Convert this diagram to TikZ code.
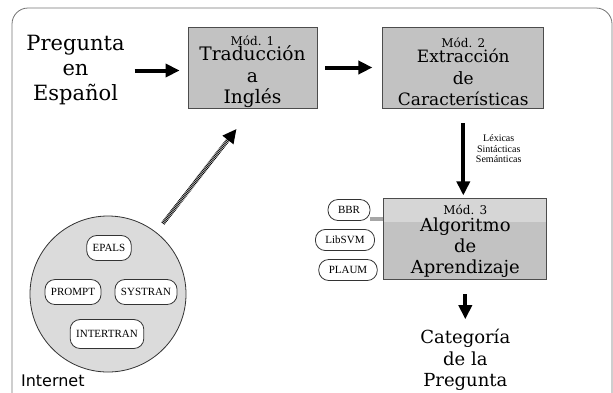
\documentclass[tikz,border=0pt]{standalone}
\usepackage{fontspec}
\setmainfont{DejaVu Serif}
\newfontfamily\smallserif{Liberation Serif}
\newfontfamily\labelsans{DejaVu Sans}
\usepackage{xcolor}
\usepackage{tikz}
\usetikzlibrary{shapes,arrows.meta,positioning,calc}

\newcommand{\modnum}[1]{{\fontsize{6}{7}\selectfont #1}}

\begin{document}
\begin{tikzpicture}[
    x=0.5pt, y=-0.5pt,
    node distance=1cm,
    modulo/.style={rectangle, draw=black!70, fill=black!24, minimum height=40.5pt, inner sep=0pt},
    modtexto/.style={align=center, inner sep=1pt},
    site/.style={rectangle, rounded corners=5pt, draw=black!80, fill=white, inner xsep=3pt, minimum height=12.5pt, font=\smallserif\fontsize{5.5}{6}\selectfont},
    alg/.style={rectangle, rounded corners=5pt, draw=black!80, fill=white, inner xsep=5pt, minimum height=10.5pt, font=\smallserif\fontsize{5.5}{6}\selectfont},
    texto/.style={align=center},
    flecha/.style={-{Triangle[length=7pt,width=6.5pt]}, line width=2pt},
    rayado/.style={-{Triangle[length=7pt,width=6.5pt]}, line width=2pt, dash pattern=on 0.4pt off 0.4pt}
]

\useasboundingbox (0,0) rectangle (613,392);
\clip (0,0) rectangle (613,392);
\draw[black!55, rounded corners=8pt] (12,8) rectangle (612,430);

\node[modulo, minimum width=64.5pt] (mod1) at (252.5,67.5) {};
\node[modulo, minimum width=80.5pt, right=32.5pt of mod1] (mod2) {};
\node[modulo, minimum width=81.5pt, below=45pt of mod2, xshift=1pt,
      path picture={\fill[black!16] ([yshift=-11.5pt]path picture bounding box.north west) rectangle (path picture bounding box.north east);}] (mod3) {};

\node[modtexto, font=\fontsize{9.3}{10.7}\selectfont] (mod1txt) at ([yshift=-2.1pt]mod1.center) {\modnum{Mód. 1}\\[-2.75pt]Traducción\\a\\Inglés};
\node[modtexto, font=\fontsize{8.5}{10.7}\selectfont] (mod2txt) at ([yshift=-2.1pt]mod2.center) {\modnum{Mód. 2}\\[-2.75pt]Extracción\\de\\Características};
\node[modtexto, font=\fontsize{9}{10.3}\selectfont] (mod3txt) at ([yshift=-0.8pt]mod3.center) {\modnum{Mód. 3}\\[-1.5pt]Algoritmo\\de\\Aprendizaje};

\node[texto, left=28pt of mod1, yshift=-1.5pt, font=\fontsize{10.5}{12.5}\selectfont] (pregunta) {Pregunta\\en\\Español};
\node[texto, below=21pt of mod3, font=\fontsize{9}{10.75}\selectfont] (categoria) {Categoría\\de la\\Pregunta};

\draw[flecha, shorten <=1.5pt, shorten >=4pt] (pregunta.east) -- (pregunta.east -| mod1.west);
\draw[flecha, shorten <=4pt, shorten >=5pt] (mod1) -- (mod2);
\draw[flecha, shorten <=7.5pt, shorten >=1.5pt] (mod2.south) -- node[right, pos=0.45, xshift=2pt, align=center, font=\smallserif\fontsize{5}{5.2}\selectfont] {Léxicas\\Sintácticas\\Semánticas} (mod2.south |- mod3.north);
\draw[flecha, shorten <=7pt, shorten >=1.5pt] (mod3.south) -- (mod3.south |- categoria.north);

\node[circle, draw=black!80, fill=black!14, minimum size=78pt] (web) at (108,294) {};
\node[site] (epals) at (109,248) {EPALS};
\node[site] (prompt) at (73,292) {PROMPT};
\node[site] (systran) at (146,292) {SYSTRAN};
\node[site, minimum height=14.5pt] (intertran) at (107,334) {INTERTRAN};
\node[anchor=west, font=\labelsans\fontsize{8}{9}\selectfont] (internet) at (14,381) {Internet};

\draw[rayado, shorten <=5.5pt, shorten >=13pt] (web) -- (mod1.south);

\node[alg] (bbr) at (349,210) {BBR};
\node[alg] (libsvm) at (345,240) {LibSVM};
\node[alg] (plaum) at (348,270) {PLAUM};
\draw[black!35, line width=2pt] ([yshift=-4.5pt]bbr.east) -- ([yshift=-4.5pt]bbr.east -| mod3.west);

\end{tikzpicture}
\end{document}
